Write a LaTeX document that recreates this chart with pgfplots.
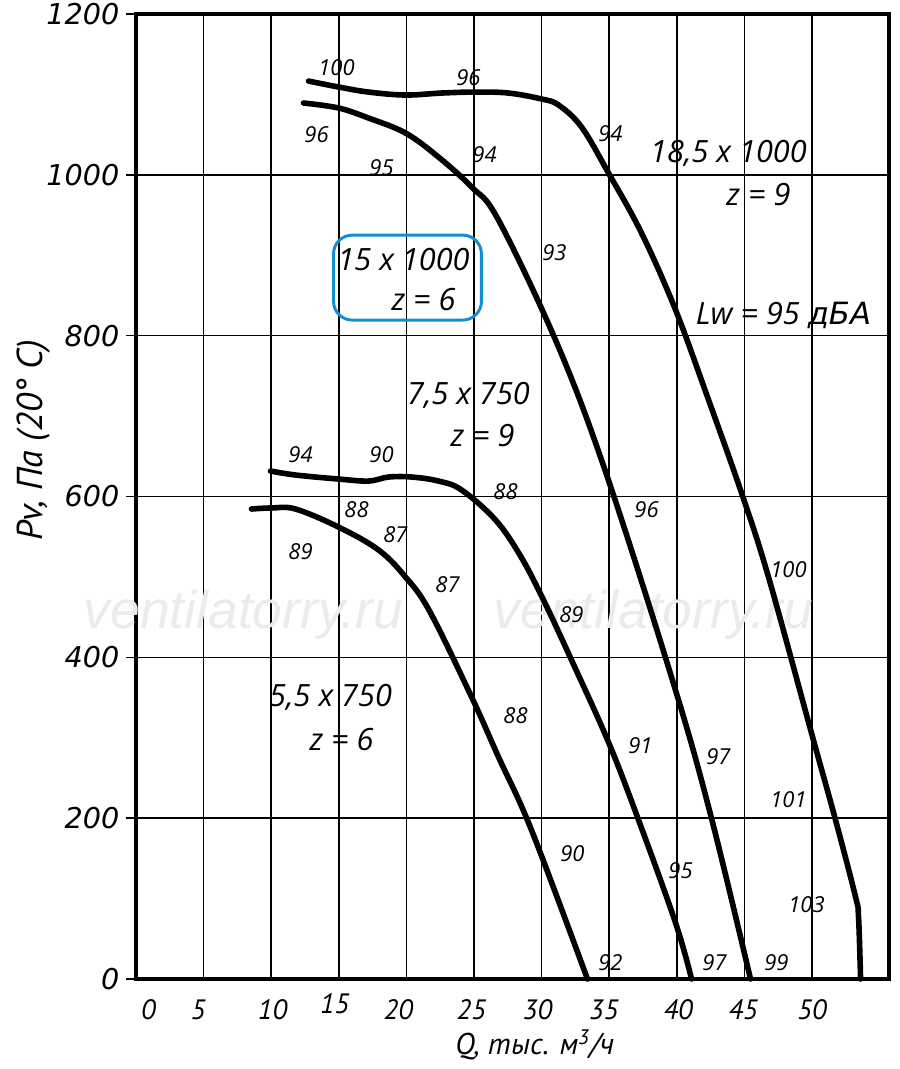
\documentclass[border=0pt]{standalone}
\usepackage{fontspec}
\setmainfont{Open Sans}
\newfontfamily\ytfont{DejaVu Sans}
\newfontfamily\xtfont{PT Sans}
\newfontfamily\wmfont{Liberation Sans}
\usepackage{pgfplots}
\pgfplotsset{compat=1.18}
\definecolor{boxblue}{RGB}{18,141,214}
\tikzset{
  crv/.style={black, line width=4.2pt, smooth, tension=0.6, line cap=round, line join=round},
  lbl/.style={font=\itshape\fontsize{16.5}{16.5}\selectfont, inner sep=0pt},
  ann/.style={font=\itshape\fontsize{23}{23}\selectfont, inner sep=0pt},
  wm/.style={font=\wmfont\itshape\fontsize{40}{40}\selectfont, text=gray!16},
}

\begin{document}
\begin{tikzpicture}
\useasboundingbox (-102pt,-67.5pt) rectangle (572.65pt,734.25pt);
\begin{axis}[
  scale only axis,
  width=564.4pt, height=723.75pt,
  at={(0,0)}, anchor=south west,
  xmin=0, xmax=55.66,
  ymin=0, ymax=1200,
  clip=false,
  axis line style={line width=3pt},
  grid=major,
  major grid style={black, line width=1.2pt},
  xtick={5,10,...,50},
  xticklabels={},
  xtick style={draw=none},
  extra x ticks={0.92,4.59,10.1,14.7,19.4,24.8,29.7,34.6,40.1,44.9,50},
  extra x tick labels={0,5,10,\raisebox{4pt}{15},20,25,30,35,40,45,50},
  extra x tick style={grid=none, xtick style={draw=none}},
  xticklabel style={font=\xtfont\itshape\fontsize{21}{21}\selectfont, anchor=base, yshift=-22.5pt},
  ytick={0,200,...,1200},
  yticklabels={0,200,400,600,800,1000,1200},
  ytick pos=left,
  tick align=outside,
  major tick length=7.5pt,
  ytick style={black, line width=1.2pt},
  yticklabel style={font=\ytfont\itshape\fontsize{21.5}{21.5}\selectfont, anchor=east, xshift=-1.5pt},
  xlabel={Q, тыс. м\textsuperscript{3}/ч},
  xlabel style={font=\xtfont\itshape\fontsize{22.5}{22.5}\selectfont, at={(axis cs:29.49,-82)}, anchor=center},
  ylabel={Pv, Па (20° C)},
  ylabel style={font=\xtfont\itshape\fontsize{27}{27}\selectfont, at={(axis cs:-7.6,670)}, anchor=center},
]

% watermark
\node[wm] at (axis cs:7.95,452.6) {ventilatorry.ru};
\node[wm] at (axis cs:38.28,452.6) {ventilatorry.ru};

% 5,5 x 750, z = 6
\addplot[crv] coordinates {
(8.54,584.4)(10.02,585.7)(11.80,584.4)(14.98,562.0)(17.94,533.5)(19.93,499.9)
(21.71,457.6)(24.82,350.7)(26.81,276.1)(29.25,185.3)(33.39,0)
};

% 7,5 x 750, z = 9
\addplot[crv] coordinates {
(9.95,631.7)(11.80,626.7)(14.98,621.7)(17.20,619.2)(18.68,624.2)(20.38,624.2)
(22.37,619.2)(24.08,608.1)(26.59,570.8)(28.44,526.0)(30.14,471.3)
(32.21,396.7)(34.94,294.7)(37.17,197.7)(39.91,69.6)(41.09,0)
};

% 15 x 1000, z = 6
\addplot[crv] coordinates {
(12.39,1089.3)(14.98,1083.1)(17.20,1070.6)(19.93,1052.0)(22.37,1022.1)(24.82,984.8)
(26.81,943.8)(31.25,785.9)(34.94,620.5)(39.90,359.4)(42.56,200.2)(45.45,0)
};

% 18,5 x 1000, z = 9
\addplot[crv] coordinates {
(12.76,1116.6)(14.98,1109.2)(17.20,1102.9)(19.93,1099.2)(22.60,1101.7)(25.11,1102.9)
(27.55,1101.7)(29.99,1094.3)(31.25,1086.8)(32.95,1059.5)(34.95,1002.2)(37.39,927.6)
(39.91,831.9)(42.35,720.0)(44.79,604.3)(46.78,499.9)(49.96,305.9)
(51.74,197.7)(53.22,102.0)(53.44,77.1)(53.59,0)
};

% sound level labels
\node[lbl] at (axis cs:14.83,1132.8) {100};
\node[lbl] at (axis cs:24.59,1120.4) {96};
\node[lbl] at (axis cs:13.35,1049.5) {96};
\node[lbl] at (axis cs:18.16,1008.5) {95};
\node[lbl] at (axis cs:25.78,1024.6) {94};
\node[lbl] at (axis cs:35.09,1050.7) {94};
\node[lbl] at (axis cs:30.95,902.8) {93};
\node[lbl] at (axis cs:12.17,651.6) {94};
\node[lbl] at (axis cs:18.16,651.6) {90};
\node[lbl] at (axis cs:16.31,583.2) {88};
\node[lbl] at (axis cs:19.19,552.1) {87};
\node[lbl] at (axis cs:12.17,531.0) {89};
\node[lbl] at (axis cs:27.33,605.6) {88};
\node[lbl] at (axis cs:23.04,489.9) {87};
\node[lbl] at (axis cs:37.76,583.2) {96};
\node[lbl] at (axis cs:48.26,508.6) {100};
\node[lbl] at (axis cs:32.21,452.6) {89};
\node[lbl] at (axis cs:28.07,327.0) {88};
\node[lbl] at (axis cs:37.31,289.7) {91};
\node[lbl] at (axis cs:43.08,276.1) {97};
\node[lbl] at (axis cs:48.26,222.6) {101};
\node[lbl] at (axis cs:32.28,155.4) {90};
\node[lbl] at (axis cs:40.28,134.3) {95};
\node[lbl] at (axis cs:49.59,92.0) {103};
\node[lbl] at (axis cs:35.09,19.9) {92};
\node[lbl] at (axis cs:42.79,19.9) {97};
\node[lbl] at (axis cs:47.37,19.9) {99};

% fan annotations
\node[ann] at (axis cs:43.82,1027.1) {18,5 x 1000};
\node[ann] at (axis cs:46.04,974.9) {z = 9};
\node[ann] at (axis cs:47.89,825.7) {Lw = 95 {\ytfont\itshape дБА}};
\node[ann] at (axis cs:19.79,894.1) {15 x 1000};
\node[ann] at (axis cs:21.27,844.3) {z = 6};
\draw[boxblue, line width=2.2pt, rounded corners=14pt] (axis cs:14.61,925) rectangle (axis cs:25.55,819.4);
\node[ann] at (axis cs:24.59,726.2) {7,5 x 750};
\node[ann] at (axis cs:25.63,675.2) {z = 9};
\node[ann] at (axis cs:14.39,350.7) {5,5 x 750};
\node[ann] at (axis cs:15.20,297.2) {z = 6};

\end{axis}
\end{tikzpicture}
\end{document}
